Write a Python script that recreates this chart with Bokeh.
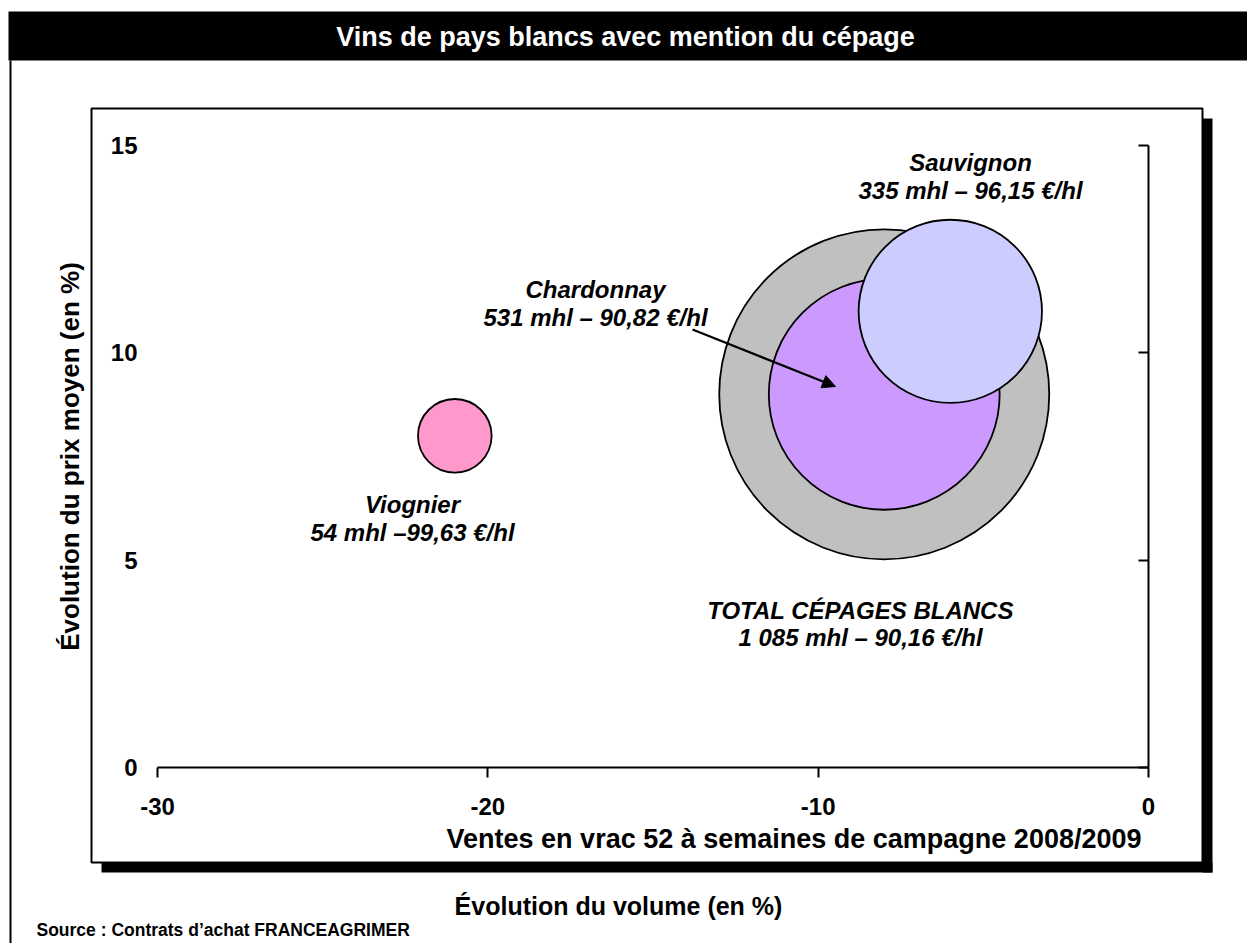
import math
from bokeh.plotting import figure
from bokeh.models import (Range1d, LinearAxis, FixedTicker, Label,
                          Arrow, NormalHead)
from bokeh.core.properties import value
from bokeh.embed import file_html
from bokeh.resources import INLINE

# ---------------- data ----------------
TITLE = "Vins de pays blancs avec mention du cépage"
names = ["TOTAL CÉPAGES BLANCS", "Chardonnay", "Sauvignon", "Viognier"]
details = ["1 085 mhl – 90,16 €/hl", "531 mhl – 90,82 €/hl",
           "335 mhl – 96,15 €/hl", "54 mhl –99,63 €/hl"]
volume_change = [-8, -8, -6, -21]      # Évolution du volume (en %)
price_change = [9, 9, 11, 8]           # Évolution du prix moyen (en %)
volume_mhl = [1085, 531, 335, 54]
colors = ["#C0C0C0", "#CC99FF", "#CCCCFF", "#FF99CC"]
x_ticks = [-30, -20, -10, 0]
y_ticks = [0, 5, 10, 15]
x_tick_labels = ["-30", "-20", "-10", "0"]
X_TITLE = "Évolution du volume (en %)"
Y_TITLE = "Évolution du prix moyen (en %)"
X_NOTE = "Ventes en vrac 52 à semaines de campagne 2008/2009"
SOURCE = "Source : Contrats d’achat FRANCEAGRIMER"

FONT = "Liberation Sans"
R_MAX = 165  # px radius of largest bubble

# ---------------- layout geometry (page pixels) ----------------
W, H = 1247, 943
FL, FR, FT, FB = 157, 1148, 145, 767   # frame edges
XMIN, XMAX, YMIN, YMAX = -30, 0, 0, 15


def px2x(px):
    return XMIN + (px - FL) * (XMAX - XMIN) / (FR - FL)


def px2y(py):
    return YMIN + (FB - py) * (YMAX - YMIN) / (FB - FT)


p = figure(frame_width=FR - FL, frame_height=FB - FT,
           x_range=Range1d(XMIN, XMAX), y_range=Range1d(YMIN, YMAX),
           x_axis_location=None, y_axis_location=None,
           min_border_left=FL, min_border_right=W - FR,
           min_border_top=FT, min_border_bottom=H - FB,
           output_backend="svg", toolbar_location=None,
           background_fill_color="white", border_fill_color="white",
           outline_line_color=None)
p.xgrid.visible = False
p.ygrid.visible = False

# ---------------- decorations (overlay-level glyphs, drawn outside the frame) ----------------
# title bar, left border line, drop shadow
p.quad(left=[px2x(8), px2x(9), px2x(1202), px2x(101)],
       right=[px2x(1260), px2x(11), px2x(1212), px2x(1212)],
       top=[px2y(11), px2y(60), px2y(118), px2y(862)],
       bottom=[px2y(60), px2y(960), px2y(872), px2y(872)],
       fill_color="black", line_color=None, level="overlay")
# panel box
p.quad(left=[px2x(91)], right=[px2x(1202)], top=[px2y(108)], bottom=[px2y(862)],
       fill_color=None, line_color="black", line_width=2, level="overlay")


def page_text(px, py, txt, size, color="black", align="center", style="bold"):
    p.text(x=[px2x(px)], y=[px2y(py)], text=[txt], text_font=value(FONT),
           text_font_size=value(size), text_font_style=value(style),
           text_color=color, text_align=value(align), text_baseline=value("middle"),
           level="overlay")


page_text(625, 36, TITLE, "27px", color="white")
page_text(1141, 838, X_NOTE, "27px", align="right")
page_text(618, 905, X_TITLE, "25px")
page_text(36, 929, SOURCE, "17.5px", align="left")

# ---------------- axes ----------------
common = dict(major_label_text_font=FONT, major_label_text_font_size="24px",
              major_label_text_font_style="bold", major_label_text_color="black",
              minor_tick_line_color=None, minor_tick_out=0, minor_tick_in=0)
xaxis = LinearAxis(ticker=FixedTicker(ticks=x_ticks), axis_line_width=2,
                   major_tick_line_width=2, major_tick_out=10, major_tick_in=0,
                   major_label_standoff=20,
                   major_label_overrides=dict(zip(x_ticks, x_tick_labels)), **common)
p.add_layout(xaxis, "below")

yaxis = LinearAxis(ticker=FixedTicker(ticks=y_ticks), axis_line_color=None,
                   major_tick_line_color=None, major_tick_out=0, major_tick_in=0,
                   major_label_standoff=20,
                   axis_label=Y_TITLE, axis_label_text_font=FONT,
                   axis_label_text_font_size="26px", axis_label_text_font_style="bold",
                   axis_label_text_color="black", axis_label_standoff=23, **common)
p.add_layout(yaxis, "left")

raxis = LinearAxis(ticker=FixedTicker(ticks=y_ticks), axis_line_width=2,
                   major_tick_line_width=2, major_tick_in=10, major_tick_out=0,
                   major_label_overrides={t: "" for t in y_ticks}, **common)
p.add_layout(raxis, "right")

# ---------------- bubbles ----------------
sizes = [2 * R_MAX * math.sqrt(v / max(volume_mhl)) for v in volume_mhl]
p.scatter(x=volume_change, y=price_change, size=sizes, fill_color=colors,
          line_color="black", line_width=1.8, fill_alpha=1)

# label centres (page px)
label_px = [860, 595, 970, 412]
label_py1 = [610, 289, 162, 504]
label_py2 = [637, 317, 190, 532]
for i in range(len(names)):
    for txt, yy in ((names[i], label_py1[i]), (details[i], label_py2[i])):
        p.add_layout(Label(x=px2x(label_px[i]), y=px2y(yy), text=txt, text_font=FONT,
                           text_font_size="24px", text_font_style="bold italic",
                           text_color="black", text_align="center",
                           text_baseline="middle"))

p.add_layout(Arrow(end=NormalHead(size=13, fill_color="black", line_color="black"),
                   x_start=px2x(692), y_start=px2y(329), x_end=px2x(835), y_end=px2y(386),
                   line_width=2.2, line_color="black"))

open("out.html", "w").write(file_html(p, INLINE))
